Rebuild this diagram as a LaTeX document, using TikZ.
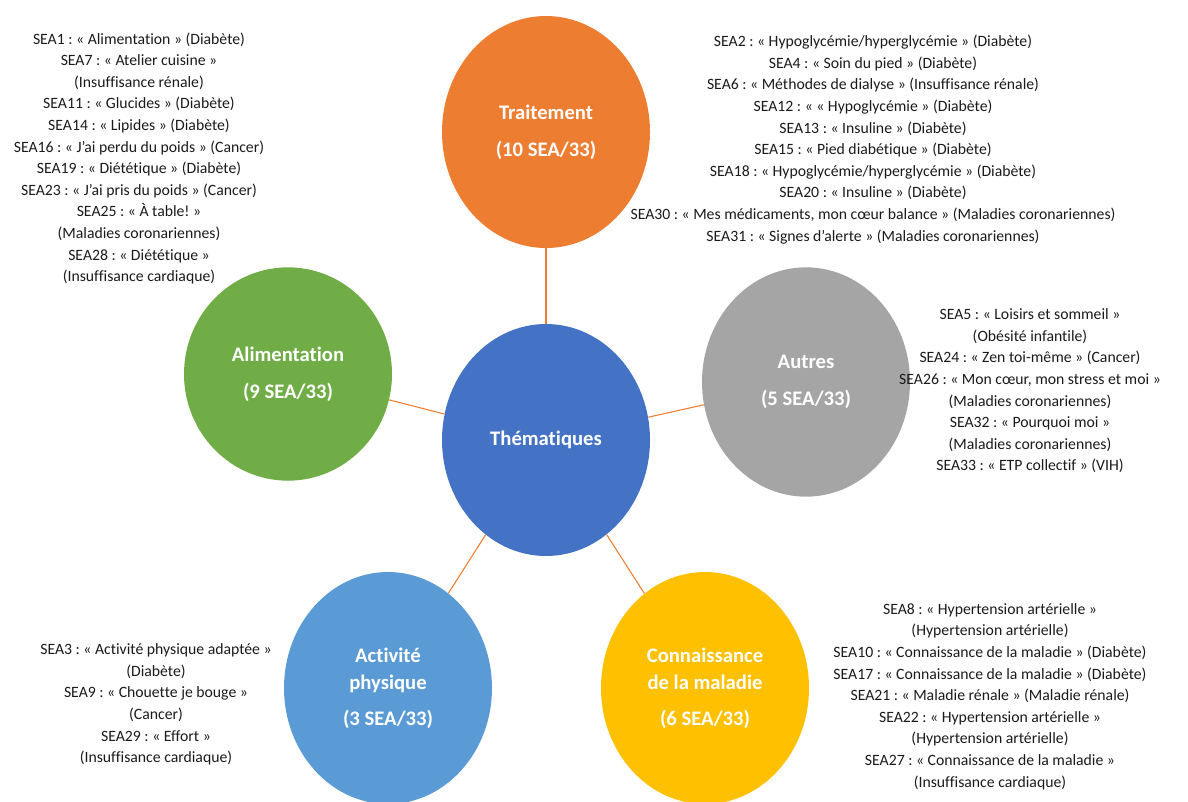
\documentclass[tikz,border=0pt]{standalone}
\usepackage{fontspec}
\setmainfont{Carlito}[Ligatures={NoCommon}]
\usetikzlibrary{shapes.geometric}
\definecolor{corange}{HTML}{ED7D31}
\definecolor{cgreen}{HTML}{70AD47}
\definecolor{cgray}{HTML}{A5A5A5}
\definecolor{cblue}{HTML}{4472C4}
\definecolor{clblue}{HTML}{5B9BD5}
\definecolor{cyellow}{HTML}{FFC000}
\definecolor{ctext}{HTML}{1A1A1A}
\frenchspacing
\begin{document}
\begin{tikzpicture}[x=0.75pt,y=-0.75pt,
  bubble/.style={ellipse, inner sep=0pt, minimum width=156pt, minimum height=174pt,
    text=white, align=center, font=\fontsize{15.5}{20}\selectfont\bfseries},
  conn/.style={draw=corange, line width=0.8pt},
  list/.style={align=center, text=ctext, inner sep=0pt, font=\fontsize{11.8}{16.2}\selectfont}]
\useasboundingbox (0,0) rectangle (1188,801);
\clip (0,0) rectangle (1188,801);

\node[bubble, fill=corange] (trt) at (546,132) {Traitement\\[8pt](10 SEA/33)};
\node[bubble, fill=cgreen, minimum height=160pt] (ali) at (288,374) {Alimentation\\[8pt](9 SEA/33)};
\node[bubble, fill=cgray, minimum height=172pt] (aut) at (806,382) {Autres\\[8pt](5 SEA/33)};
\node[bubble, fill=cblue] (the) at (546,440) {Thématiques};
\node[bubble, fill=clblue] (act) at (388,688) {Activité\\physique\\[7pt](3 SEA/33)};
\node[bubble, fill=cyellow] (con) at (705,688) {Connaissance\\de la maladie\\[7pt](6 SEA/33)};

\draw[conn] (the) -- (trt);
\draw[conn] (the) -- (ali);
\draw[conn] (the) -- (aut);
\draw[conn] (the) -- (act);
\draw[conn] (the) -- (con);

\node[list] (lali) at (139,158.5) {SEA1 : « Alimentation » (Diabète)\\
SEA7 : « Atelier cuisine »\\
(Insuffisance rénale)\\
SEA11 : « Glucides » (Diabète)\\
SEA14 : « Lipides » (Diabète)\\
SEA16 : « J’ai perdu du poids » (Cancer)\\
SEA19 : « Diététique » (Diabète)\\
SEA23 : « J’ai pris du poids » (Cancer)\\
SEA25 : « À table! »\\
(Maladies coronariennes)\\
SEA28 : « Diététique »\\
(Insuffisance cardiaque)};

\node[list] (ltrt) at (873,139.5) {SEA2 : « Hypoglycémie/hyperglycémie » (Diabète)\\
SEA4 : « Soin du pied » (Diabète)\\
SEA6 : « Méthodes de dialyse » (Insuffisance rénale)\\
SEA12 : « « Hypoglycémie » (Diabète)\\
SEA13 : « Insuline » (Diabète)\\
SEA15 : « Pied diabétique » (Diabète)\\
SEA18 : « Hypoglycémie/hyperglycémie » (Diabète)\\
SEA20 : « Insuline » (Diabète)\\
SEA30 : « Mes médicaments, mon cœur balance » (Maladies coronariennes)\\
SEA31 : « Signes d’alerte » (Maladies coronariennes)};

\node[list] (laut) at (1030,391) {SEA5 : « Loisirs et sommeil »\\
(Obésité infantile)\\
SEA24 : « Zen toi-même » (Cancer)\\
SEA26 : « Mon cœur, mon stress et moi »\\
(Maladies coronariennes)\\
SEA32 : « Pourquoi moi »\\
(Maladies coronariennes)\\
SEA33 : « ETP collectif » (VIH)};

\node[list] (lcon) at (990,696.5) {SEA8 : « Hypertension artérielle »\\
(Hypertension artérielle)\\
SEA10 : « Connaissance de la maladie » (Diabète)\\
SEA17 : « Connaissance de la maladie » (Diabète)\\
SEA21 : « Maladie rénale » (Maladie rénale)\\
SEA22 : « Hypertension artérielle »\\
(Hypertension artérielle)\\
SEA27 : « Connaissance de la maladie »\\
(Insuffisance cardiaque)};

\node[list] (lact) at (156,704.5) {SEA3 : « Activité physique adaptée »\\
(Diabète)\\
SEA9 : « Chouette je bouge »\\
(Cancer)\\
SEA29 : « Effort »\\
(Insuffisance cardiaque)};
\end{tikzpicture}
\end{document}
